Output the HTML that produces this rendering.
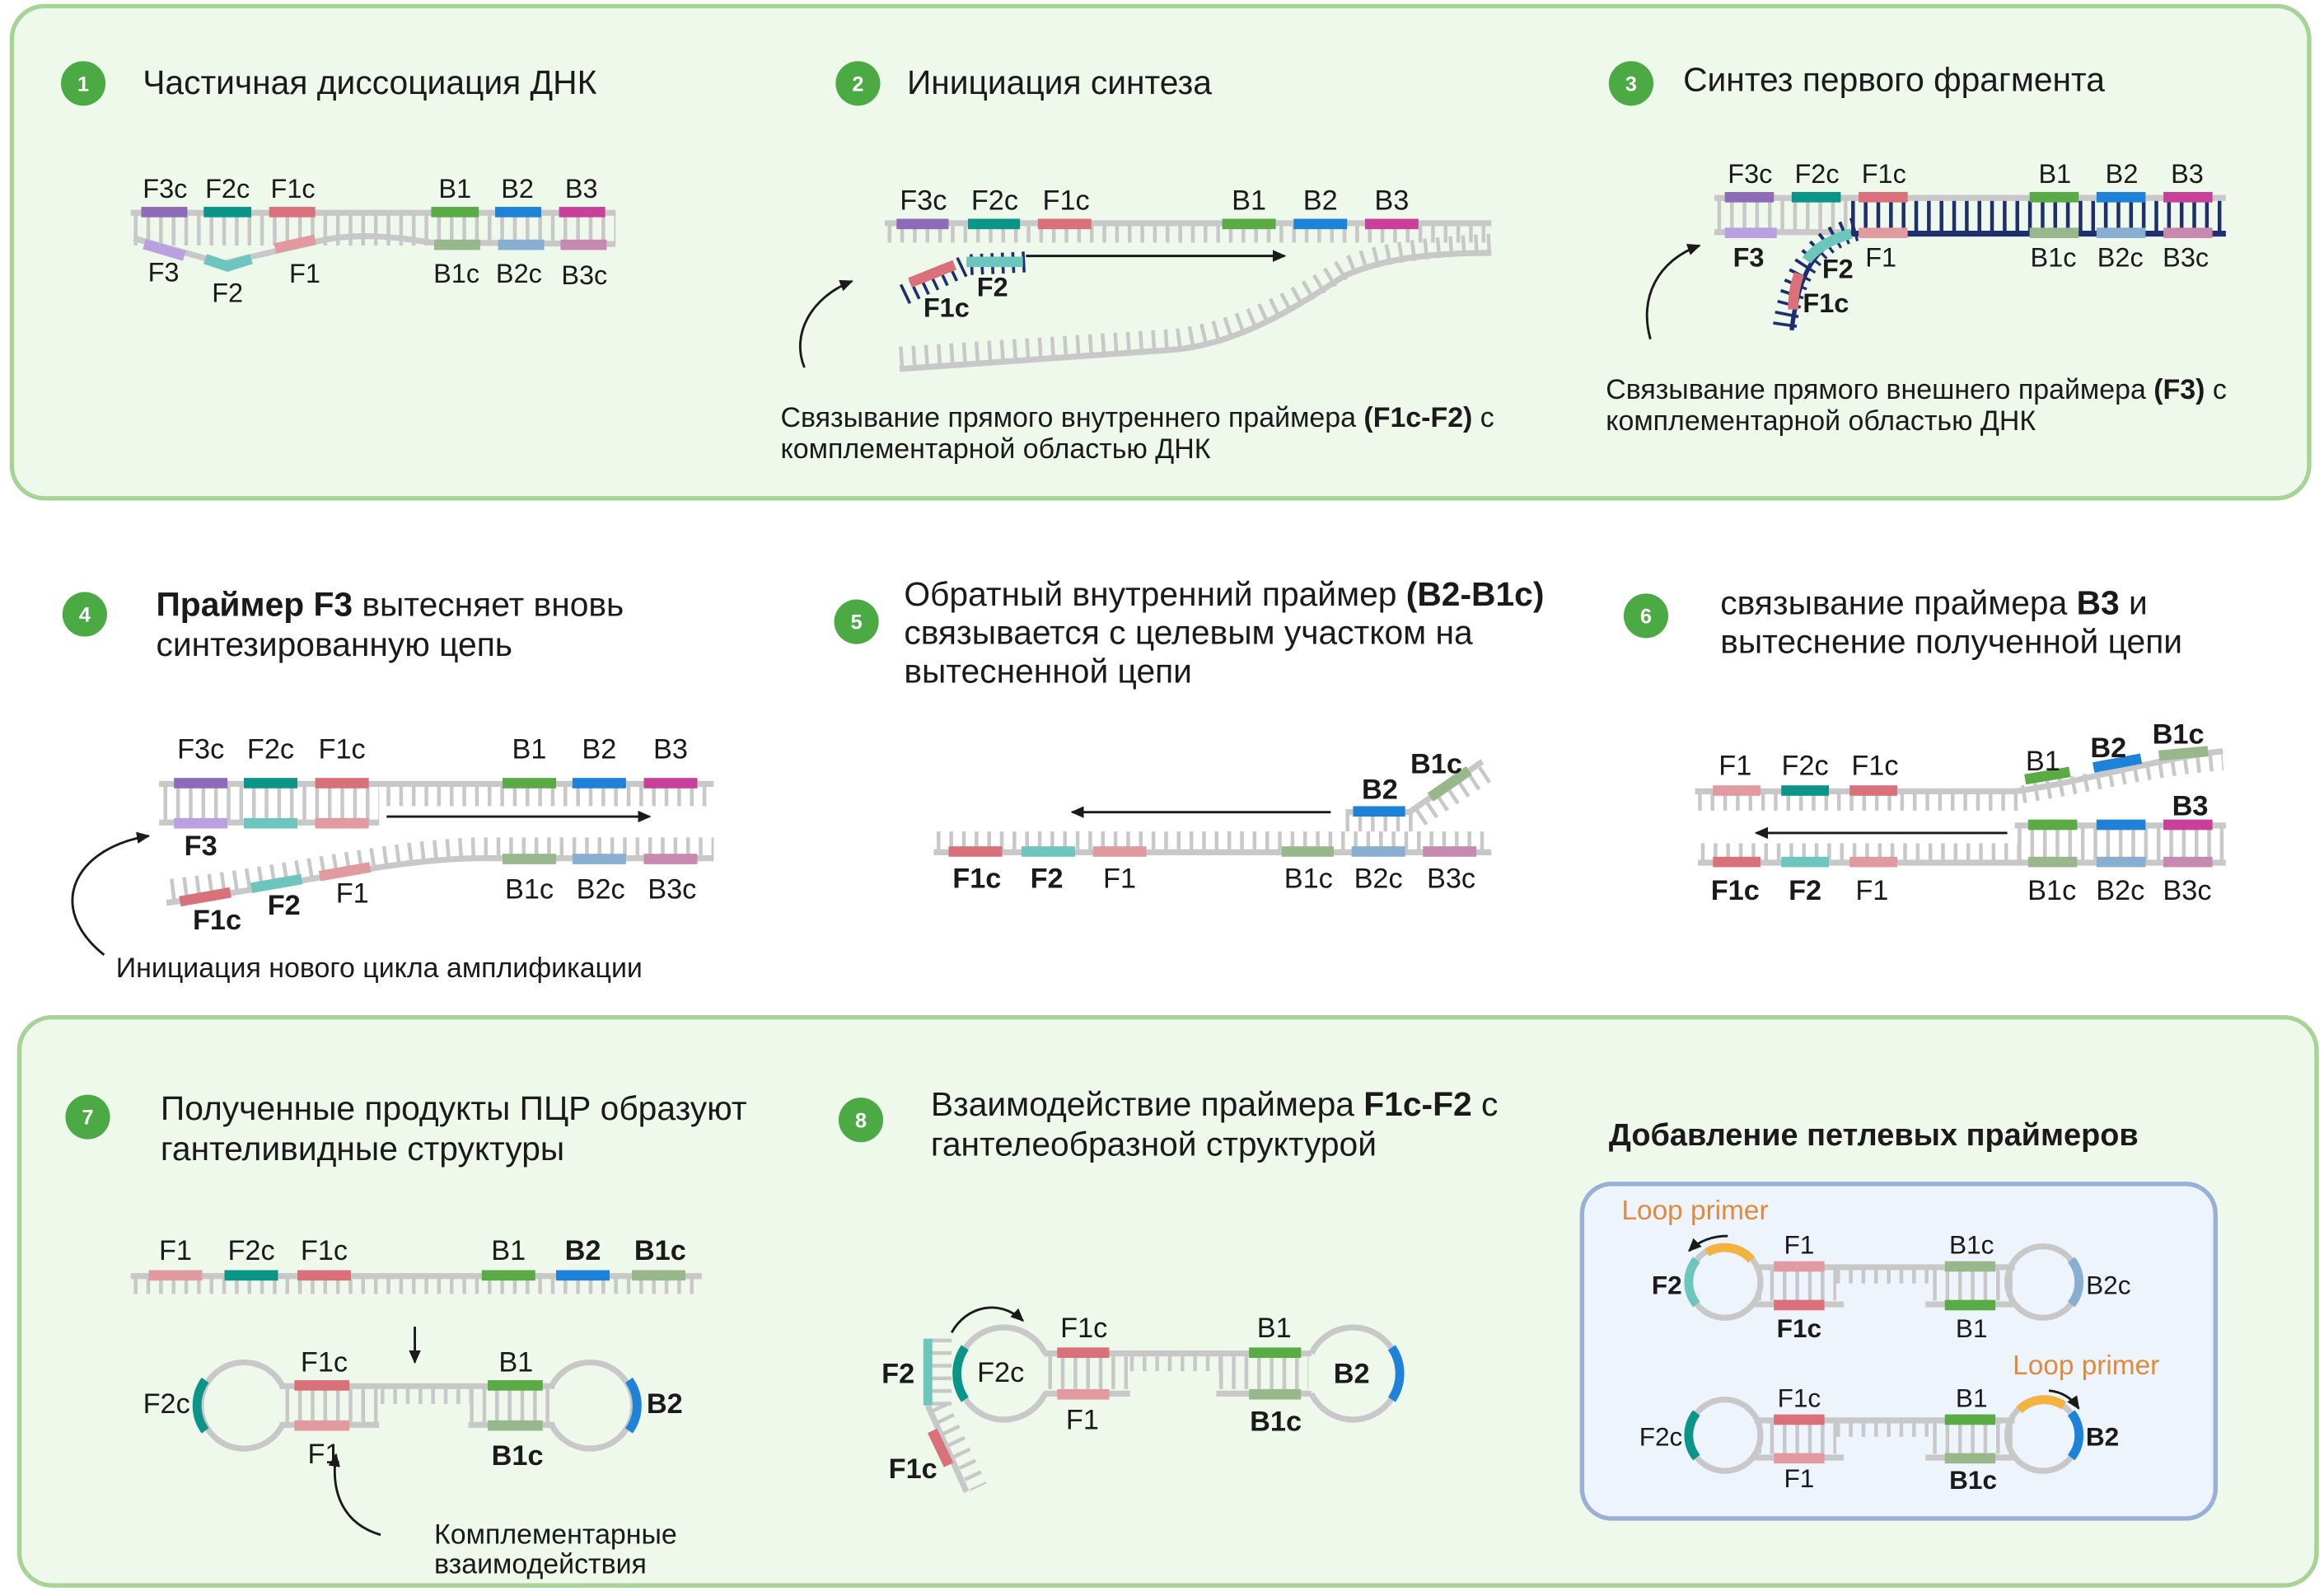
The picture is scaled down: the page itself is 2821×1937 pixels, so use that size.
<!DOCTYPE html>
<html><head><meta charset="utf-8"><style>
html,body{margin:0;padding:0;background:#fff}
svg{display:block}
text{font-family:"Liberation Sans","DejaVu Sans",sans-serif;fill:#1a1a1a}
.t20{font-size:22.6px}
.l{font-size:18px}
.b{font-weight:bold}
.s{stroke:#c8c8c8;stroke-width:4;fill:none}
.k{stroke:#c8c8c8;fill:none;stroke-dasharray:2.5 6}
.n{fill:#4caa45}
.nt{fill:#fff;font-size:14px;font-weight:bold;text-anchor:middle}
.c{text-anchor:middle}
.ar{stroke:#1a1a1a;stroke-width:1.6;fill:none}
.cap{font-size:18.8px}
</style></head><body>
<svg width="2821" height="1937" viewBox="0 0 1563 1073" xmlns="http://www.w3.org/2000/svg">
<defs>
<marker id="ah" markerWidth="10" markerHeight="10" refX="8" refY="5" orient="auto" markerUnits="userSpaceOnUse"><path d="M0,1 L9,5 L0,9 z" fill="#1a1a1a"/></marker>
</defs>
<!-- panels -->
<rect x="8" y="4" width="1545" height="331" rx="22" fill="#eff9eb" stroke="#a6d495" stroke-width="3"/>
<rect x="13" y="684" width="1545" height="382" rx="22" fill="#eff9eb" stroke="#a6d495" stroke-width="3"/>

<!-- numbers -->
<g><circle class="n" cx="56" cy="56" r="15"/><text class="nt" x="56" y="61">1</text>
<circle class="n" cx="577" cy="56" r="15"/><text class="nt" x="577" y="61">2</text>
<circle class="n" cx="1097" cy="56" r="15"/><text class="nt" x="1097" y="61">3</text>
<circle class="n" cx="57" cy="413" r="15"/><text class="nt" x="57" y="418">4</text>
<circle class="n" cx="576" cy="418" r="15"/><text class="nt" x="576" y="423">5</text>
<circle class="n" cx="1107" cy="414" r="15"/><text class="nt" x="1107" y="419">6</text>
<circle class="n" cx="59" cy="751" r="15"/><text class="nt" x="59" y="756">7</text>
<circle class="n" cx="579" cy="753" r="15"/><text class="nt" x="579" y="758">8</text></g>

<!-- titles -->
<text class="t20" x="96" y="63">Частичная диссоциация ДНК</text>
<text class="t20" x="610" y="63">Инициация синтеза</text>
<text class="t20" x="1132" y="61">Синтез первого фрагмента</text>
<text class="t20" x="105" y="414"><tspan class="b">Праймер F3</tspan> вытесняет вновь</text>
<text class="t20" x="105" y="441">синтезированную цепь</text>
<text class="t20" x="608" y="407">Обратный внутренний праймер  <tspan class="b">(B2-B1c)</tspan></text>
<text class="t20" x="608" y="433">связывается с целевым участком на</text>
<text class="t20" x="608" y="459">вытесненной цепи</text>
<text class="t20" x="1157" y="413">связывание праймера <tspan class="b">B3</tspan> и</text>
<text class="t20" x="1157" y="439">вытеснение полученной цепи</text>
<text class="t20" x="108" y="753">Полученные продукты ПЦР образуют</text>
<text class="t20" x="108" y="780">гантеливидные структуры</text>
<text class="t20" x="626" y="750">Взаимодействие праймера <tspan class="b">F1c-F2</tspan> с</text>
<text class="t20" x="626" y="777">гантелеобразной структурой</text>
<text class="t20 b" x="1082" y="770" style="font-size:21px">Добавление петлевых праймеров</text>

<!-- ===== Panel 1 ===== -->
<line class="k" x1="90" y1="154" x2="414" y2="154" stroke-width="22"/>
<line class="s" x1="88" y1="143" x2="414" y2="143"/>
<path class="s" d="M90,160 L150,177 L210,163 C240,155 270,160 290,163 L414,164"/>
<rect x="95" y="139" width="31" height="7" fill="#8e6bb8"/>
<rect x="137" y="139" width="32" height="7" fill="#0b9488"/>
<rect x="181" y="139" width="31" height="7" fill="#d9707a"/>
<rect x="290" y="139" width="32" height="7" fill="#5aab46"/>
<rect x="333" y="139" width="31" height="7" fill="#1e82d8"/>
<rect x="376" y="139" width="31" height="7" fill="#c8409a"/>
<path d="M97,164 L124,172" stroke="#b9a0e0" stroke-width="7"/>
<path d="M138,174 L153,179 L169,174" stroke="#6cc6be" stroke-width="7" fill="none"/>
<path d="M185,167 L212,161" stroke="#e09aa0" stroke-width="7"/>
<rect x="292" y="161" width="31" height="7" fill="#98b88c"/>
<rect x="335" y="161" width="31" height="7" fill="#88aed0"/>
<rect x="377" y="161" width="31" height="7" fill="#c68ab0"/>
<g class="l c"><text x="111" y="133">F3c</text><text x="153" y="133">F2c</text><text x="197" y="133">F1c</text><text x="306" y="133">B1</text><text x="348" y="133">B2</text><text x="391" y="133">B3</text>
<text x="110" y="189">F3</text><text x="153" y="203">F2</text><text x="205" y="190">F1</text><text x="307" y="190">B1c</text><text x="349" y="190">B2c</text><text x="393" y="191">B3c</text></g>

<!-- ===== Panel 2 ===== -->
<line class="k" x1="597" y1="157" x2="1003" y2="157" stroke-width="12"/>
<line class="s" x1="595" y1="150" x2="1003" y2="150"/>
<path class="k" d="M605,240 L790,228 C840,222 880,195 905,180 C930,168 970,166 1003,164" stroke-width="14"/>
<path class="s" d="M605,248 L790,235 C840,230 880,200 905,185 C935,172 970,170 1003,170" />
<g>
<rect x="603" y="147" width="35" height="7" fill="#8e6bb8"/><rect x="651" y="147" width="35" height="7" fill="#0b9488"/><rect x="698" y="147" width="36" height="7" fill="#d9707a"/>
<rect x="822" y="147" width="36" height="7" fill="#5aab46"/><rect x="870" y="147" width="36" height="7" fill="#1e82d8"/><rect x="918" y="147" width="36" height="7" fill="#c8409a"/></g>
<path d="M608,198 L650,178 L690,176" stroke="#1f2f6e" stroke-width="14" fill="none" stroke-dasharray="2 5"/>
<path d="M612,190 L642,178" stroke="#d9707a" stroke-width="7"/>
<line x1="650" y1="176" x2="688" y2="176" stroke="#6cc6be" stroke-width="7"/>
<line class="ar" x1="690" y1="172" x2="864" y2="172" marker-end="url(#ah)"/>
<path class="ar" d="M541,247 C532,225 545,200 573,189" marker-end="url(#ah)"/>
<g class="l c" style="font-size:19px"><text x="621" y="141">F3c</text><text x="669" y="141">F2c</text><text x="717" y="141">F1c</text><text x="840" y="141">B1</text><text x="888" y="141">B2</text><text x="936" y="141">B3</text></g>
<text class="l b" x="621" y="213">F1c</text><text class="l b" x="657" y="199">F2</text>
<text class="cap" x="525" y="287">Связывание прямого внутреннего праймера  <tspan class="b">(F1c-F2)</tspan> с</text>
<text class="cap" x="525" y="308">комплементарной областью ДНК</text>

<!-- ===== Panel 3 ===== -->
<line class="k" x1="1155" y1="144" x2="1245" y2="144" stroke-width="22"/>
<line class="k" x1="1245" y1="145" x2="1497" y2="145" stroke-width="22" style="stroke:#1f2f6e"/>
<line class="s" x1="1153" y1="133" x2="1497" y2="133"/>
<line class="s" x1="1153" y1="156" x2="1245" y2="156"/>
<line x1="1245" y1="157" x2="1497" y2="157" stroke="#1f2f6e" stroke-width="4"/>
<path d="M1248,154 C1225,160 1205,180 1200,222" stroke="#1f2f6e" stroke-width="16" fill="none" stroke-dasharray="2 5"/>
<path d="M1248,156 C1225,162 1210,178 1205,222" stroke="#1f2f6e" stroke-width="3" fill="none"/>
<path d="M1245,157 C1230,161 1220,168 1215,175" stroke="#6cc6be" stroke-width="7" fill="none"/>
<path d="M1210,184 C1207,192 1206,200 1206,208" stroke="#d9707a" stroke-width="7" fill="none"/>
<g><rect x="1160" y="129" width="33" height="7" fill="#8e6bb8"/><rect x="1205" y="129" width="33" height="7" fill="#0b9488"/><rect x="1250" y="129" width="33" height="7" fill="#d9707a"/>
<rect x="1365" y="129" width="33" height="7" fill="#5aab46"/><rect x="1410" y="129" width="33" height="7" fill="#1e82d8"/><rect x="1455" y="129" width="33" height="7" fill="#c8409a"/>
<rect x="1160" y="153" width="35" height="7" fill="#b9a0e0"/><rect x="1250" y="153" width="33" height="7" fill="#e09aa0"/>
<rect x="1365" y="153" width="33" height="7" fill="#98b88c"/><rect x="1410" y="153" width="33" height="7" fill="#88aed0"/><rect x="1455" y="153" width="33" height="7" fill="#c68ab0"/></g>
<g class="l c"><text x="1177" y="123">F3c</text><text x="1222" y="123">F2c</text><text x="1267" y="123">F1c</text><text x="1382" y="123">B1</text><text x="1427" y="123">B2</text><text x="1471" y="123">B3</text>
<text x="1176" y="179" class="b">F3</text><text x="1236" y="187" class="b">F2</text><text x="1265" y="179">F1</text><text x="1228" y="210" class="b">F1c</text>
<text x="1381" y="179">B1c</text><text x="1426" y="179">B2c</text><text x="1470" y="179">B3c</text></g>
<path class="ar" d="M1110,228 C1102,200 1115,175 1143,165" marker-end="url(#ah)"/>
<text class="cap" x="1080" y="268">Связывание прямого внешнего праймера  <tspan class="b">(F3)</tspan> с</text>
<text class="cap" x="1080" y="289">комплементарной областью ДНК</text>

<!-- ===== Panel 4 ===== -->
<line class="k" x1="110" y1="540" x2="255" y2="540" stroke-width="24"/>
<line class="k" x1="260" y1="535" x2="480" y2="535" stroke-width="14"/>
<line class="s" x1="107" y1="527" x2="480" y2="527"/>
<line class="s" x1="107" y1="553" x2="255" y2="553"/>
<path class="k" d="M115,598 C200,588 260,572 320,570 L480,570" stroke-width="14"/>
<path class="s" d="M112,607 C200,595 260,578 320,577 L480,577"/>
<g><rect x="117" y="523" width="36" height="7" fill="#8e6bb8"/><rect x="164" y="523" width="36" height="7" fill="#0b9488"/><rect x="212" y="523" width="36" height="7" fill="#d9707a"/>
<rect x="338" y="523" width="36" height="7" fill="#5aab46"/><rect x="385" y="523" width="36" height="7" fill="#1e82d8"/><rect x="433" y="523" width="36" height="7" fill="#c8409a"/>
<rect x="117" y="550" width="36" height="7" fill="#b9a0e0"/><rect x="164" y="550" width="36" height="7" fill="#6cc6be"/><rect x="212" y="550" width="36" height="7" fill="#e09aa0"/>
<rect x="338" y="574" width="36" height="7" fill="#98b88c"/><rect x="385" y="574" width="36" height="7" fill="#88aed0"/><rect x="433" y="574" width="36" height="7" fill="#c68ab0"/></g>
<path d="M121,606 L155,600" stroke="#d9707a" stroke-width="7"/>
<path d="M169,597 L203,591" stroke="#6cc6be" stroke-width="7"/>
<path d="M215,589 L249,583" stroke="#e09aa0" stroke-width="7"/>
<line class="ar" x1="260" y1="549" x2="437" y2="549" marker-end="url(#ah)"/>
<g class="l c" style="font-size:19px"><text x="135" y="510">F3c</text><text x="182" y="510">F2c</text><text x="230" y="510">F1c</text><text x="356" y="510">B1</text><text x="403" y="510">B2</text><text x="451" y="510">B3</text>
<text x="135" y="575" class="b">F3</text><text x="146" y="625" class="b">F1c</text><text x="191" y="615" class="b">F2</text><text x="237" y="607">F1</text>
<text x="356" y="604">B1c</text><text x="404" y="604">B2c</text><text x="452" y="604">B3c</text></g>
<path class="ar" d="M70,642 C30,610 50,570 100,562" marker-end="url(#ah)"/>
<text class="cap" x="78" y="657">Инициация  нового цикла амплификации</text>

<!-- ===== Panel 5 ===== -->
<line class="k" x1="630" y1="566" x2="1003" y2="566" stroke-width="14"/>
<line class="s" x1="628" y1="573" x2="1003" y2="573"/>
<line class="k" x1="905" y1="553" x2="950" y2="553" stroke-width="12"/>
<line class="s" x1="905" y1="546" x2="950" y2="546"/>
<path class="s" d="M948,546 L997,512"/>
<path class="k" d="M955,550 L1000,520" stroke-width="12"/>
<path d="M962,536 L988,518" stroke="#98b88c" stroke-width="7"/>
<rect x="910" y="542" width="35" height="7" fill="#1e82d8"/>
<g><rect x="638" y="569" width="36" height="7" fill="#d9707a"/><rect x="687" y="569" width="36" height="7" fill="#6cc6be"/><rect x="735" y="569" width="36" height="7" fill="#e09aa0"/>
<rect x="862" y="569" width="35" height="7" fill="#98b88c"/><rect x="909" y="569" width="36" height="7" fill="#88aed0"/><rect x="957" y="569" width="36" height="7" fill="#c68ab0"/></g>
<line class="ar" x1="895" y1="546" x2="721" y2="546" marker-end="url(#ah)"/>
<g class="l c" style="font-size:19px"><text x="657" y="597" class="b">F1c</text><text x="704" y="597" class="b">F2</text><text x="753" y="597">F1</text>
<text x="880" y="597">B1c</text><text x="927" y="597">B2c</text><text x="976" y="597">B3c</text>
<text x="928" y="537" class="b">B2</text><text x="966" y="520" class="b">B1c</text></g>

<!-- ===== Panel 6 ===== -->
<line class="k" x1="1142" y1="539" x2="1360" y2="539" stroke-width="12"/>
<path class="k" d="M1360,534 C1400,528 1450,515 1495,512" stroke-width="12"/>
<path class="s" d="M1140,532 L1355,532 C1400,526 1450,510 1495,505"/>
<path d="M1362,524 L1392,519" stroke="#5aab46" stroke-width="7"/>
<path d="M1408,516 L1440,510" stroke="#1e82d8" stroke-width="7"/>
<path d="M1452,508 L1485,505" stroke="#98b88c" stroke-width="7"/>
<rect x="1152" y="528" width="32" height="7" fill="#e09aa0"/><rect x="1198" y="528" width="32" height="7" fill="#0b9488"/><rect x="1244" y="528" width="32" height="7" fill="#d9707a"/>
<line class="k" x1="1357" y1="567" x2="1497" y2="567" stroke-width="24"/>
<line class="k" x1="1144" y1="573" x2="1357" y2="573" stroke-width="12"/>
<line class="s" x1="1355" y1="555" x2="1497" y2="555"/>
<line class="s" x1="1142" y1="580" x2="1497" y2="580"/>
<g><rect x="1364" y="551" width="33" height="7" fill="#5aab46"/><rect x="1410" y="551" width="33" height="7" fill="#1e82d8"/><rect x="1455" y="551" width="33" height="7" fill="#c8409a"/>
<rect x="1152" y="576" width="32" height="7" fill="#d9707a"/><rect x="1198" y="576" width="32" height="7" fill="#6cc6be"/><rect x="1244" y="576" width="32" height="7" fill="#e09aa0"/>
<rect x="1364" y="576" width="33" height="7" fill="#98b88c"/><rect x="1410" y="576" width="33" height="7" fill="#88aed0"/><rect x="1455" y="576" width="33" height="7" fill="#c68ab0"/></g>
<line class="ar" x1="1350" y1="560" x2="1181" y2="560" marker-end="url(#ah)"/>
<g class="l c" style="font-size:19px"><text x="1167" y="521">F1</text><text x="1214" y="521">F2c</text><text x="1261" y="521">F1c</text><text x="1374" y="518">B1</text><text x="1418" y="509" class="b">B2</text><text x="1465" y="500" class="b">B1c</text>
<text x="1473" y="548" class="b">B3</text>
<text x="1167" y="605" class="b">F1c</text><text x="1214" y="605" class="b">F2</text><text x="1259" y="605">F1</text><text x="1380" y="605">B1c</text><text x="1426" y="605">B2c</text><text x="1471" y="605">B3c</text></g>

<!-- ===== Panel 7 ===== -->
<line class="k" x1="90" y1="864" x2="472" y2="864" stroke-width="12"/>
<line class="s" x1="88" y1="858" x2="472" y2="858"/>
<g><rect x="100" y="854" width="36" height="7" fill="#e09aa0"/><rect x="151" y="854" width="36" height="7" fill="#0b9488"/><rect x="200" y="854" width="36" height="7" fill="#d9707a"/>
<rect x="324" y="854" width="36" height="7" fill="#5aab46"/><rect x="374" y="854" width="36" height="7" fill="#1e82d8"/><rect x="425" y="854" width="36" height="7" fill="#98b88c"/></g>
<g class="l c" style="font-size:19px"><text x="118" y="847">F1</text><text x="169" y="847">F2c</text><text x="218" y="847">F1c</text><text x="342" y="847">B1</text><text x="392" y="847" class="b">B2</text><text x="444" y="847" class="b">B1c</text></g>
<line class="ar" x1="279" y1="892" x2="279" y2="916" marker-end="url(#ah)"/>
<!-- dumbbell 7 -->
<line class="k" x1="192" y1="945" x2="256" y2="945" stroke-width="22"/>
<line class="k" x1="256" y1="939" x2="316" y2="939" stroke-width="10"/>
<line class="k" x1="316" y1="945" x2="372" y2="945" stroke-width="22"/>
<path class="s" d="M190,932 A29,29 0 1 0 190,958"/>
<path class="s" d="M371,932 A29,29 0 1 1 371,958"/>
<line class="s" x1="188" y1="932" x2="373" y2="932"/><line class="s" x1="188" y1="958" x2="255" y2="958"/><line class="s" x1="315" y1="958" x2="373" y2="958"/>
<rect x="198" y="928" width="37" height="7" fill="#d9707a"/><rect x="328" y="928" width="37" height="7" fill="#5aab46"/>
<rect x="198" y="955" width="37" height="7" fill="#e09aa0"/><rect x="328" y="955" width="37" height="7" fill="#98b88c"/>
<path d="M138,928 A29,29 0 0 0 138,962" stroke="#0b9488" stroke-width="6" fill="none"/>
<path d="M423,928 A29,29 0 0 1 423,962" stroke="#1e82d8" stroke-width="6" fill="none"/>
<g class="l c" style="font-size:19px"><text x="112" y="950">F2c</text><text x="218" y="922">F1c</text><text x="218" y="984">F1</text><text x="347" y="922">B1</text><text x="348" y="985" class="b">B1c</text><text x="447" y="950" class="b">B2</text></g>
<path class="ar" d="M256,1032 C232,1025 222,1005 226,978" marker-end="url(#ah)"/>
<text class="cap" x="292" y="1038">Комплементарные</text><text class="cap" x="292" y="1058">взаимодействия</text>

<!-- ===== Panel 8 ===== -->
<line class="k" x1="705" y1="923" x2="760" y2="923" stroke-width="22"/>
<line class="k" x1="760" y1="917" x2="820" y2="917" stroke-width="10"/>
<line class="k" x1="820" y1="923" x2="880" y2="923" stroke-width="22"/>
<path class="s" d="M703,910 A31,31 0 1 0 703,937"/>
<path class="s" d="M882,910 A31,31 0 1 1 882,937"/>
<line class="s" x1="702" y1="910" x2="882" y2="910"/><line class="s" x1="702" y1="937" x2="760" y2="937"/><line class="s" x1="818" y1="937" x2="882" y2="937"/>
<rect x="711" y="906" width="35" height="7" fill="#d9707a"/><rect x="840" y="906" width="35" height="7" fill="#5aab46"/>
<rect x="711" y="934" width="35" height="7" fill="#e09aa0"/><rect x="840" y="934" width="35" height="7" fill="#98b88c"/>
<path d="M649,906 A31,31 0 0 0 649,941" stroke="#0b9488" stroke-width="6" fill="none"/>
<path d="M936,906 A31,31 0 0 1 936,941" stroke="#1e82d8" stroke-width="6" fill="none"/>
<line class="k" x1="633" y1="900" x2="633" y2="945" stroke-width="14"/>
<line x1="624" y1="900" x2="624" y2="945" stroke="#6cc6be" stroke-width="6"/>
<path class="s" d="M624,945 L650,1003"/>
<path class="k" d="M632,945 L658,1000" stroke-width="12"/>
<path d="M627,962 L638,985" stroke="#d9707a" stroke-width="7"/>
<path class="ar" d="M640,896 C650,878 672,873 688,888" marker-end="url(#ah)"/>
<g class="l c" style="font-size:19px"><text x="604" y="930" class="b">F2</text><text x="673" y="929">F2c</text><text x="729" y="899">F1c</text><text x="728" y="961">F1</text>
<text x="857" y="899">B1</text><text x="909" y="930" class="b">B2</text><text x="858" y="962" class="b">B1c</text><text x="614" y="994" class="b">F1c</text></g>

<!-- ===== Loop primer box ===== -->
<rect x="1064" y="796" width="426" height="225" rx="20" fill="#edf4fc" stroke="#9aafd6" stroke-width="3"/>
<g class="l c" style="font-size:17.5px">
<!-- upper -->
<line class="k" x1="1182" y1="864" x2="1235" y2="864" stroke-width="21"/>
<line class="k" x1="1235" y1="858" x2="1300" y2="858" stroke-width="10"/>
<line class="k" x1="1300" y1="864" x2="1355" y2="864" stroke-width="21"/>
<circle class="s" cx="1160" cy="862" r="24"/><circle class="s" cx="1374" cy="862" r="24"/>
<line class="s" x1="1180" y1="852" x2="1355" y2="852"/><line class="s" x1="1180" y1="877" x2="1240" y2="877"/><line class="s" x1="1295" y1="877" x2="1355" y2="877"/>
<rect x="1193" y="848" width="34" height="7" fill="#e09aa0"/><rect x="1308" y="848" width="34" height="7" fill="#98b88c"/>
<rect x="1193" y="874" width="34" height="7" fill="#d9707a"/><rect x="1308" y="874" width="34" height="7" fill="#5aab46"/>
<path d="M1141,847 A24,24 0 0 0 1141,877" stroke="#6cc6be" stroke-width="6" fill="none"/>
<path d="M1393,847 A24,24 0 0 1 1393,877" stroke="#88aed0" stroke-width="6" fill="none"/>
<path d="M1148,842 A24,24 0 0 1 1178,847" stroke="#f2b340" stroke-width="6" fill="none"/>
<path class="ar" d="M1162,831 C1150,831 1142,835 1136,841" marker-end="url(#ah)"/>
<text x="1140" y="820" style="fill:#e08a3c;font-size:18.5px">Loop primer</text>
<text x="1121" y="870" class="b">F2</text><text x="1210" y="843">F1</text><text x="1210" y="899" class="b">F1c</text><text x="1326" y="843">B1c</text><text x="1326" y="899">B1</text><text x="1418" y="870">B2c</text>
<!-- lower -->
<line class="k" x1="1182" y1="967" x2="1235" y2="967" stroke-width="21"/>
<line class="k" x1="1235" y1="961" x2="1300" y2="961" stroke-width="10"/>
<line class="k" x1="1300" y1="967" x2="1355" y2="967" stroke-width="21"/>
<circle class="s" cx="1160" cy="965" r="24"/><circle class="s" cx="1374" cy="965" r="24"/>
<line class="s" x1="1180" y1="955" x2="1355" y2="955"/><line class="s" x1="1180" y1="980" x2="1240" y2="980"/><line class="s" x1="1295" y1="980" x2="1355" y2="980"/>
<rect x="1193" y="951" width="34" height="7" fill="#d9707a"/><rect x="1308" y="951" width="34" height="7" fill="#5aab46"/>
<rect x="1193" y="977" width="34" height="7" fill="#e09aa0"/><rect x="1308" y="977" width="34" height="7" fill="#98b88c"/>
<path d="M1141,950 A24,24 0 0 0 1141,980" stroke="#0b9488" stroke-width="6" fill="none"/>
<path d="M1393,950 A24,24 0 0 1 1393,980" stroke="#1e82d8" stroke-width="6" fill="none"/>
<path d="M1358,948 A24,24 0 0 1 1388,945" stroke="#f2b340" stroke-width="6" fill="none"/>
<path class="ar" d="M1378,935 C1388,936 1394,941 1398,947" marker-end="url(#ah)"/>
<text x="1403" y="924" style="fill:#e08a3c;font-size:18.5px">Loop primer</text>
<text x="1117" y="972">F2c</text><text x="1210" y="946">F1c</text><text x="1210" y="1000">F1</text><text x="1326" y="946">B1</text><text x="1327" y="1001" class="b">B1c</text><text x="1414" y="972" class="b">B2</text>
</g>
</svg>
</body></html>
